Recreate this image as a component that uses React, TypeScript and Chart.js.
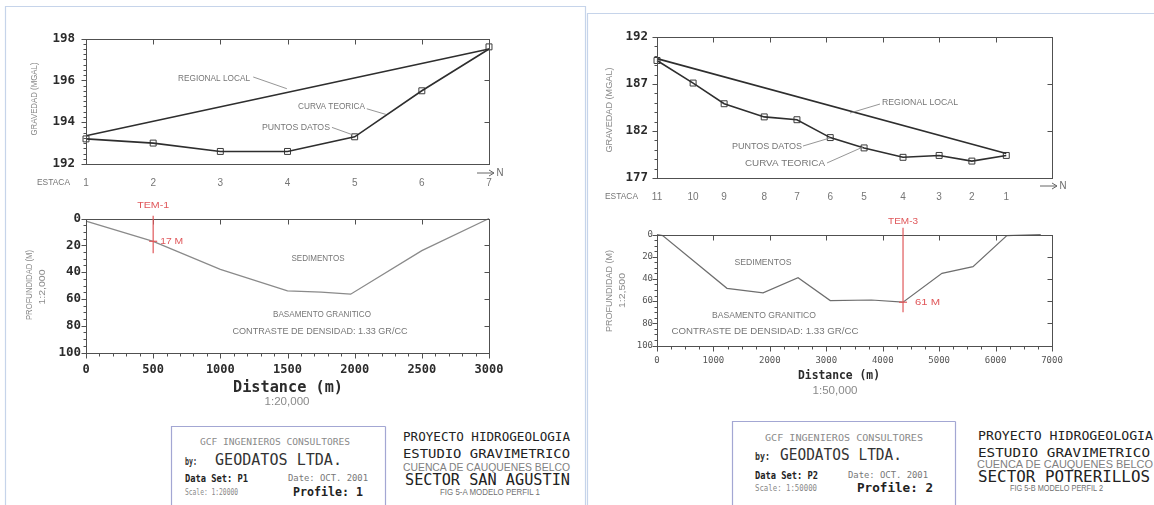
import { useEffect, useRef } from 'react';
import { Chart, registerables } from 'chart.js';

Chart.register(...registerables);

const MONO = "'DejaVu Sans Mono', 'Liberation Mono', monospace";
const SANS = "'Liberation Sans', 'DejaVu Sans', Arial, sans-serif";
const INK = '#2b2b2b';
const GREY = '#767676';
const RED = '#e0585b';

// ---------- Perfil 1 — Sector San Agustín ----------
const estacas1 = [1, 2, 3, 4, 5, 6, 7];
const puntosDatos1 = [193.2, 193.0, 192.6, 192.6, 193.3, 195.5, 197.6];
const curvaTeorica1 = [193.2, 193.0, 192.6, 192.6, 193.3, 195.5, 197.5];
const regionalEstacas1 = [1, 7];
const regionalLocal1 = [193.35, 197.5];
const distancia1 = [0, 500, 1000, 1500, 1750, 1970, 2500, 3000];
const profundidad1 = [2, 17, 38, 54, 55, 56.5, 24, 0];
const gravTicks1 = [192, 194, 196, 198];
const distTicks1 = [0, 500, 1000, 1500, 2000, 2500, 3000];

// ---------- Perfil 2 — Sector Potrerillos ----------
const estacas2 = ['11', '10', '9', '8', '7', '6', '5', '4', '3', '2', '1'];
const estacaDist2 = [0, 640, 1190, 1900, 2480, 3070, 3670, 4360, 5000, 5580, 6190];
const puntosDatos2 = [189.5, 187.1, 184.9, 183.5, 183.2, 181.3, 180.2, 179.2, 179.4, 178.8, 179.4];
const curvaTeorica2 = [189.5, 187.1, 184.9, 183.5, 183.2, 181.3, 180.2, 179.2, 179.4, 178.8, 179.4];
const regionalDist2 = [0, 6190];
const regionalLocal2 = [189.7, 179.6];
const distancia2 = [0, 100, 1240, 1880, 2500, 3070, 3800, 4360, 5050, 5600, 6200, 6800];
const profundidad2 = [0, 1, 48.5, 52.5, 39, 59.5, 59, 61, 35, 29, 1, 0];
const gravTicks2 = [177, 182, 187, 192];
const distTicks2 = [0, 1000, 2000, 3000, 4000, 5000, 6000, 7000];

const profTicks = [0, 20, 40, 60, 80, 100];

// Sondeos TEM
const tem1 = { name: 'TEM-1', dist: 500, depth: 17 };
const tem3 = { name: 'TEM-3', dist: 4360, depth: 61 };

// Cajetín
const empresa = 'GCF INGENIEROS CONSULTORES';
const autor = 'GEODATOS LTDA.';
const proyecto = 'PROYECTO HIDROGEOLOGIA';
const estudio = 'ESTUDIO GRAVIMETRICO';
const cuenca = 'CUENCA DE CAUQUENES BELCO';
const fecha = 'Date: OCT. 2001';

function range(from: number, to: number, step: number) {
  const out: number[] = [];
  for (let v = from; v <= to + 1e-9; v += step) out.push(+v.toFixed(4));
  return out;
}

const xy = (xs: number[], ys: number[]) => xs.map((x, i) => ({ x, y: ys[i] }));

type Note = { text: string; x: number; y: number; w: number };
type Fixed = { text: string; px: number; py: number; w: number; font: string; color: string; rotate?: boolean };
type Marker = { name: string; dist: number; depth: number; from: number; to: number; labelAt: number; nameW: number; valueDx: number; valueW: number };
type Deco = {
  top: number[];
  right: number[];
  leftMajor: number[];
  leftMinor: number[];
  bottomMajor?: number[];
  bottomMinor?: number[];
  notes: Note[];
  leaders: number[][];
  fixed: Fixed[];
  marker?: Marker;
  arrow?: { x1: number; x2: number; y: number };
};

function drawFit(ctx: CanvasRenderingContext2D, text: string, cx: number, cy: number, w: number) {
  const m = ctx.measureText(text).width || 1;
  ctx.save();
  ctx.translate(cx, cy);
  ctx.scale(w / m, 1);
  ctx.textAlign = 'center';
  ctx.textBaseline = 'middle';
  ctx.fillText(text, 0, 0);
  ctx.restore();
}

// Frame, inward/outward tick marks, callouts and sondeo markers
function decoration(d: Deco) {
  return {
    id: 'perfilDeco',
    afterDatasetsDraw(chart: any) {
      const { ctx, chartArea: a, scales } = chart;
      const xs = scales.x;
      const ys = scales.y;
      const L = Math.round(a.left) + 0.5;
      const R = Math.round(a.right) + 0.5;
      const T = Math.round(a.top) + 0.5;
      const B = Math.round(a.bottom) + 0.5;
      const X = (v: number) => Math.round(xs.getPixelForValue(v)) + 0.5;
      const Y = (v: number) => Math.round(ys.getPixelForValue(v)) + 0.5;
      const seg = (x1: number, y1: number, x2: number, y2: number) => {
        ctx.beginPath();
        ctx.moveTo(x1, y1);
        ctx.lineTo(x2, y2);
        ctx.stroke();
      };
      ctx.save();
      ctx.strokeStyle = '#505050';
      ctx.lineWidth = 1;
      ctx.strokeRect(L, T, R - L, B - T);
      d.top.forEach((v) => seg(X(v), T, X(v), T + 5));
      d.right.forEach((v) => seg(R, Y(v), R - 5, Y(v)));
      d.leftMajor.forEach((v) => seg(L, Y(v), L - 5, Y(v)));
      d.leftMinor.forEach((v) => seg(L, Y(v), L - 3, Y(v)));
      (d.bottomMajor || []).forEach((v) => seg(X(v), B, X(v), B + 5));
      (d.bottomMinor || []).forEach((v) => seg(X(v), B, X(v), B + 3));

      // callouts
      ctx.strokeStyle = '#8a8a8a';
      ctx.lineWidth = 0.9;
      d.leaders.forEach(([x1, y1, x2, y2]) =>
        seg(xs.getPixelForValue(x1), ys.getPixelForValue(y1), xs.getPixelForValue(x2), ys.getPixelForValue(y2))
      );
      ctx.fillStyle = GREY;
      ctx.font = `9px ${SANS}`;
      d.notes.forEach((n) => drawFit(ctx, n.text, xs.getPixelForValue(n.x), ys.getPixelForValue(n.y), n.w));

      d.fixed.forEach((f) => {
        ctx.font = f.font;
        ctx.fillStyle = f.color;
        if (f.rotate) {
          ctx.save();
          ctx.translate(f.px, f.py);
          ctx.rotate(-Math.PI / 2);
          drawFit(ctx, f.text, 0, 0, f.w);
          ctx.restore();
        } else {
          drawFit(ctx, f.text, f.px, f.py, f.w);
        }
      });

      if (d.arrow) {
        const { x1, x2, y } = d.arrow;
        ctx.strokeStyle = '#666';
        ctx.lineWidth = 1;
        seg(x1, y, x2, y);
        seg(x2 - 5, y - 3, x2, y);
        seg(x2 - 5, y + 3, x2, y);
        ctx.fillStyle = '#666';
        ctx.font = `10px ${SANS}`;
        drawFit(ctx, 'N', x2 + 6, y, 7);
      }

      if (d.marker) {
        const m = d.marker;
        const px = xs.getPixelForValue(m.dist);
        ctx.strokeStyle = RED;
        ctx.lineWidth = 1.2;
        seg(px, ys.getPixelForValue(m.from), px, ys.getPixelForValue(m.to));
        const py = ys.getPixelForValue(m.depth);
        seg(px - 4, py, px + 4, py);
        ctx.fillStyle = RED;
        ctx.font = `9px ${SANS}`;
        drawFit(ctx, m.name, px, ys.getPixelForValue(m.labelAt), m.nameW);
        drawFit(ctx, `${m.depth} M`, px + m.valueDx + m.valueW / 2, py, m.valueW);
      }
      ctx.restore();
    },
  };
}

type AxisSpec = {
  min: number;
  max: number;
  ticks: number[];
  labels?: (v: number, i: number) => string;
  font: any;
  color: string;
  padding: number;
  size: number;
  reverse?: boolean;
};

function buildConfig(p: { datasets: any[]; x: AxisSpec; y: AxisSpec; padTop: number; padRight: number; deco: Deco }) {
  const axis = (s: AxisSpec, horizontal: boolean) => ({
    type: 'linear',
    position: horizontal ? 'bottom' : 'left',
    min: s.min,
    max: s.max,
    reverse: !!s.reverse,
    grid: { display: false, drawTicks: false },
    border: { display: false },
    afterBuildTicks: (sc: any) => {
      sc.ticks = s.ticks.map((value) => ({ value }));
    },
    ticks: {
      autoSkip: false,
      maxRotation: 0,
      font: s.font,
      color: s.color,
      padding: s.padding,
      callback: s.labels || ((v: number) => String(v)),
    },
    afterFit: (sc: any) => {
      if (horizontal) sc.height = s.size;
      else sc.width = s.size;
    },
  });
  return {
    type: 'scatter',
    data: { datasets: p.datasets },
    options: {
      responsive: false,
      animation: false,
      events: [],
      layout: { padding: { left: 0, top: p.padTop, right: p.padRight, bottom: 0 } },
      plugins: { legend: { display: false }, tooltip: { enabled: false } },
      scales: { x: axis(p.x, true), y: axis(p.y, false) },
    },
    plugins: [decoration(p.deco)],
  } as any;
}

const lineSet = (data: any[], color: string, width: number) => ({
  data,
  showLine: true,
  borderColor: color,
  borderWidth: width,
  pointRadius: 0,
  clip: false,
});

const pointSet = (data: any[]) => ({
  data,
  showLine: false,
  pointStyle: 'rect',
  pointRadius: 4.2,
  borderColor: '#3a3a3a',
  borderWidth: 1,
  backgroundColor: 'rgba(255,255,255,0)',
  clip: false,
});

const tickBold = { family: MONO, size: 12.5, weight: 'bold' };
const stationFont = { family: SANS, size: 10 };

const gravedad1 = () =>
  buildConfig({
    datasets: [
      lineSet(xy(regionalEstacas1, regionalLocal1), '#2e2e2e', 1.6),
      lineSet(xy(estacas1, curvaTeorica1), '#2e2e2e', 1.6),
      pointSet(xy(estacas1, puntosDatos1)),
    ],
    x: { min: 1, max: 7, ticks: estacas1, font: stationFont, color: GREY, padding: 13, size: 46 },
    y: { min: 192, max: 198, ticks: gravTicks1, font: tickBold, color: INK, padding: 11, size: 86 },
    padTop: 10,
    padRight: 41,
    deco: {
      top: [2, 3, 4, 5, 6],
      right: [194, 196],
      leftMajor: gravTicks1,
      leftMinor: range(192, 198, 0.25),
      notes: [
        { text: 'REGIONAL LOCAL', x: 2.906, y: 196.07, w: 72 },
        { text: 'CURVA TEORICA', x: 4.655, y: 194.73, w: 67 },
        { text: 'PUNTOS DATOS', x: 4.126, y: 193.75, w: 68 },
      ],
      leaders: [
        [3.49, 196.16, 3.99, 195.6],
        [5.18, 194.64, 5.466, 194.37],
        [4.662, 193.75, 4.975, 193.39],
      ],
      fixed: [
        { text: 'ESTACA', px: 53.5, py: 163, w: 33, font: `9px ${SANS}`, color: GREY },
        { text: 'GRAVEDAD (MGAL)', px: 35, py: 79, w: 73, font: `9px ${SANS}`, color: '#8a8a8a', rotate: true },
      ],
      arrow: { x1: 477, x2: 494, y: 153 },
    },
  });

const profundidadP1 = () =>
  buildConfig({
    datasets: [lineSet(xy(distancia1, profundidad1), '#8a8a8a', 1.3)],
    x: { min: 0, max: 3000, ticks: distTicks1, font: { family: MONO, size: 12, weight: 'bold' }, color: INK, padding: 10, size: 57.5 },
    y: { min: 0, max: 100, reverse: true, ticks: profTicks, font: tickBold, color: INK, padding: 5, size: 86 },
    padTop: 23.5,
    padRight: 41,
    deco: {
      top: [500, 1000, 1500, 2000, 2500],
      right: [20, 40, 60, 80],
      leftMajor: profTicks,
      leftMinor: range(0, 100, 5),
      bottomMajor: distTicks1,
      bottomMinor: range(0, 3000, 100),
      notes: [
        { text: 'SEDIMENTOS', x: 1727, y: 29.5, w: 53 },
        { text: 'BASAMENTO GRANITICO', x: 1757, y: 72, w: 98 },
        { text: 'CONTRASTE DE DENSIDAD: 1.33 GR/CC', x: 1742, y: 84.7, w: 175 },
      ],
      leaders: [],
      fixed: [
        { text: 'PROFUNDIDAD (M)', px: 30, py: 90, w: 70, font: `9px ${SANS}`, color: '#8a8a8a', rotate: true },
        { text: '1:2,000', px: 43, py: 92, w: 35, font: `9px ${SANS}`, color: '#8a8a8a', rotate: true },
        { text: 'Distance (m)', px: 288, py: 193, w: 110, font: `bold 15px ${MONO}`, color: INK },
        { text: '1:20,000', px: 287, py: 207, w: 45, font: `10px ${SANS}`, color: '#8a8a8a' },
      ],
      marker: { ...tem1, from: -2, to: 26, labelAt: -10, nameW: 32, valueDx: 7, valueW: 23 },
    },
  });

const gravedad2 = () =>
  buildConfig({
    datasets: [
      lineSet(xy(regionalDist2, regionalLocal2), '#2e2e2e', 1.6),
      lineSet(xy(estacaDist2, curvaTeorica2), '#2e2e2e', 1.6),
      pointSet(xy(estacaDist2, puntosDatos2)),
    ],
    x: {
      min: 0,
      max: 7000,
      ticks: estacaDist2,
      labels: (_v, i) => estacas2[i],
      font: stationFont,
      color: GREY,
      padding: 13,
      size: 32,
    },
    y: { min: 177, max: 192, ticks: gravTicks2, font: tickBold, color: INK, padding: 9, size: 67 },
    padTop: 17,
    padRight: 78,
    deco: {
      top: range(1000, 6000, 1000),
      right: [182, 187],
      leftMajor: gravTicks2,
      leftMinor: range(177, 192, 1),
      notes: [
        { text: 'REGIONAL LOCAL', x: 4661, y: 184.98, w: 76 },
        { text: 'PUNTOS DATOS', x: 1949, y: 180.4, w: 70 },
        { text: 'CURVA TEORICA', x: 2268, y: 178.5, w: 80 },
      ],
      leaders: [
        [3952, 184.87, 3420, 183.91],
        [2587, 180.4, 3066, 181.26],
        [3013, 178.6, 3651, 180.3],
      ],
      fixed: [
        { text: 'ESTACA', px: 31.5, py: 177, w: 33, font: `9px ${SANS}`, color: GREY },
        { text: 'GRAVEDAD (MGAL)', px: 20, py: 90, w: 85, font: `9px ${SANS}`, color: '#8a8a8a', rotate: true },
      ],
      arrow: { x1: 450, x2: 467, y: 166 },
    },
  });

const profundidadP2 = () =>
  buildConfig({
    datasets: [lineSet(xy(distancia2, profundidad2), '#6e6e6e', 1.2)],
    x: { min: 0, max: 7000, ticks: distTicks2, font: { family: MONO, size: 9 }, color: '#555', padding: 9.5, size: 59.5 },
    y: { min: 0, max: 100, reverse: true, ticks: profTicks, font: { family: MONO, size: 9 }, color: '#555', padding: 4, size: 67 },
    padTop: 29.5,
    padRight: 78,
    deco: {
      top: range(1000, 6000, 1000),
      right: [20, 40, 60, 80],
      leftMajor: profTicks,
      leftMinor: range(0, 100, 5),
      bottomMajor: distTicks2,
      bottomMinor: range(0, 7000, 250),
      notes: [
        { text: 'SEDIMENTOS', x: 1878, y: 24.8, w: 57 },
        { text: 'BASAMENTO GRANITICO', x: 1896, y: 73.4, w: 104 },
        { text: 'CONTRASTE DE DENSIDAD: 1.33 GR/CC', x: 1914, y: 87.8, w: 187 },
      ],
      leaders: [],
      fixed: [
        { text: 'PROFUNDIDAD (M)', px: 20, py: 86, w: 82, font: `9px ${SANS}`, color: '#8a8a8a', rotate: true },
        { text: '1:2,500', px: 33, py: 85.5, w: 35, font: `9px ${SANS}`, color: '#8a8a8a', rotate: true },
        { text: 'Distance (m)', px: 249, py: 171, w: 82, font: `bold 11.5px ${MONO}`, color: INK },
        { text: '1:50,000', px: 245, py: 186, w: 45, font: `10px ${SANS}`, color: '#8a8a8a' },
      ],
      marker: { ...tem3, from: -6, to: 70, labelAt: -12, nameW: 30, valueDx: 12, valueW: 25 },
    },
  });

function ChartBox({ left, top, width, height, build }: { left: number; top: number; width: number; height: number; build: () => any }) {
  const ref = useRef<HTMLCanvasElement | null>(null);
  useEffect(() => {
    if (!ref.current) return;
    const chart = new Chart(ref.current, build());
    return () => chart.destroy();
  }, [build]);
  return <canvas ref={ref} width={width} height={height} style={{ position: 'absolute', left, top, width, height }} />;
}

function Txt({ x, y, w, size, bold, fill, family, children }: any) {
  return (
    <text
      x={x}
      y={y}
      textLength={w}
      lengthAdjust="spacingAndGlyphs"
      fontSize={size}
      fontWeight={bold ? 'bold' : 'normal'}
      fill={fill}
      fontFamily={family || MONO}
    >
      {children}
    </text>
  );
}

export default function App() {
  return (
    <div style={{ position: 'absolute', left: 0, top: 0, width: 1154, height: 505, overflow: 'hidden', background: '#fff' }}>
      <svg width={1154} height={505} style={{ position: 'absolute', left: 0, top: 0 }}>
        <g stroke="#c6d4ea" strokeWidth={1.2} fill="none">
          <polyline points="5.5,505 5.5,6.5 585.5,6.5 585.5,505" />
          <polyline points="587.5,505 587.5,13.5 1154,13.5" />
        </g>
        <g stroke="#a3a7d3" strokeWidth={1.2} fill="none">
          <polyline points="171.5,505 171.5,426.5 385.5,426.5" />
          <line x1={385.5} y1={426.5} x2={385.5} y2={505} />
          <polyline points="732.5,505 732.5,421.5 955.5,421.5" />
          <line x1={955.5} y1={421.5} x2={955.5} y2={505} />
        </g>

        {/* Perfil 1 */}
        <Txt x={200} y={445.4} w={150} size={9.5} fill="#8a8a8a">{empresa}</Txt>
        <Txt x={185} y={465} w={12} size={10} bold fill="#333">by:</Txt>
        <Txt x={215} y={465.4} w={127} size={15} fill="#333">{autor}</Txt>
        <Txt x={185} y={481.6} w={63} size={10} bold fill="#222">Data Set: P1</Txt>
        <Txt x={288} y={481.2} w={80} size={9} fill="#777">{fecha}</Txt>
        <Txt x={185} y={494.9} w={53} size={8} fill="#888">Scale: 1:20000</Txt>
        <Txt x={293} y={496.3} w={70} size={12} bold fill="#222">Profile: 1</Txt>
        <Txt x={403} y={440.7} w={167} size={13} fill="#222">{proyecto}</Txt>
        <Txt x={403} y={457.7} w={167} size={13} fill="#222">{estudio}</Txt>
        <Txt x={403} y={471} w={167} size={11} fill="#808080" family={SANS}>{cuenca}</Txt>
        <Txt x={405} y={485.4} w={165} size={15} fill="#222">SECTOR SAN AGUSTIN</Txt>
        <Txt x={440} y={495} w={100} size={8.5} fill="#707070" family={SANS}>FIG 5-A  MODELO PERFIL 1</Txt>

        {/* Perfil 2 */}
        <Txt x={765} y={441.4} w={158} size={9.5} fill="#8a8a8a">{empresa}</Txt>
        <Txt x={755} y={460} w={15} size={10} bold fill="#333">by:</Txt>
        <Txt x={780} y={460.4} w={122} size={15} fill="#333">{autor}</Txt>
        <Txt x={755} y={478.6} w={63} size={10} bold fill="#222">Data Set: P2</Txt>
        <Txt x={848} y={478.2} w={80} size={9} fill="#777">{fecha}</Txt>
        <Txt x={755} y={490.9} w={62} size={8} fill="#888">Scale: 1:50000</Txt>
        <Txt x={857} y={492.3} w={76} size={12} bold fill="#222">Profile: 2</Txt>
        <Txt x={978} y={439.7} w={175} size={13} fill="#222">{proyecto}</Txt>
        <Txt x={978} y={456.7} w={172} size={13} fill="#222">{estudio}</Txt>
        <Txt x={977} y={468} w={176} size={11} fill="#808080" family={SANS}>{cuenca}</Txt>
        <Txt x={978} y={482.4} w={172} size={15} fill="#222">SECTOR POTRERILLOS</Txt>
        <Txt x={1010} y={491} w={93} size={8.5} fill="#707070" family={SANS}>FIG 5-B  MODELO PERFIL 2</Txt>
      </svg>

      <ChartBox left={0} top={20} width={530} height={190} build={gravedad1} />
      <ChartBox left={0} top={195} width={530} height={215} build={profundidadP1} />
      <ChartBox left={590} top={20} width={540} height={190} build={gravedad2} />
      <ChartBox left={590} top={205} width={540} height={200} build={profundidadP2} />
    </div>
  );
}
